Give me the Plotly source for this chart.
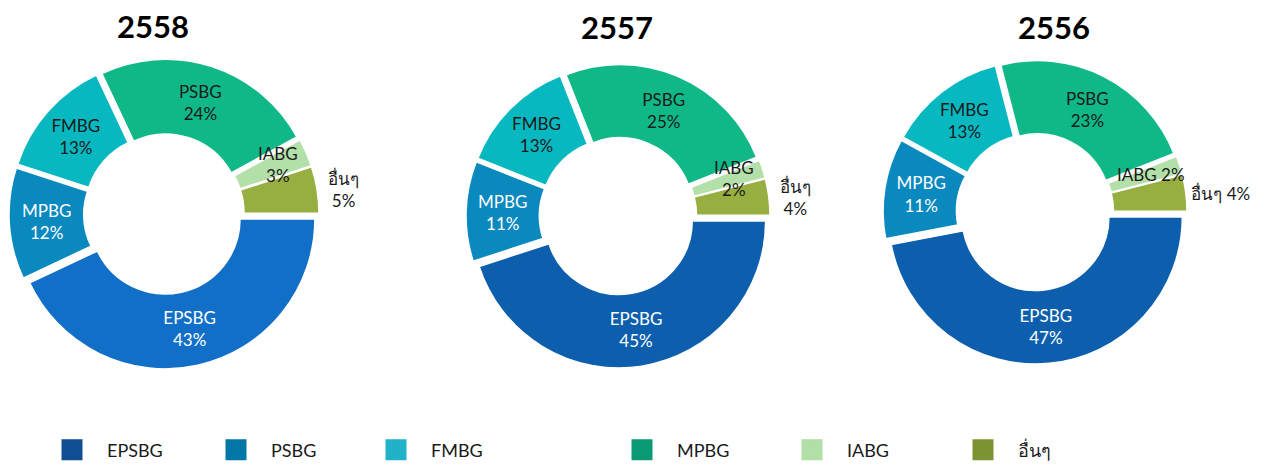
import math
import plotly.graph_objects as go

W, H = 1271, 466
OFF = 8  # page body margin in the browser

# ---------------- data ----------------
years = ["2558", "2557", "2556"]
slice_labels = ["EPSBG", "MPBG", "FMBG", "PSBG", "IABG", "อื่นๆ"]
values_2558 = [43, 12, 13, 24, 3, 5]
values_2557 = [45, 11, 13, 25, 2, 4]
values_2556 = [47, 11, 13, 23, 2, 4]
all_values = [values_2558, values_2557, values_2556]

legend_labels = ["EPSBG", "PSBG", "FMBG", "MPBG", "IABG", "อื่นๆ"]
legend_colors = ["#0f4e93", "#0077a6", "#21b1c9", "#0b9a74", "#b1dfa6", "#7b9431"]

# ---------------- style ----------------
FONT = "Lato, 'Noto Sans', 'DejaVu Sans', sans-serif"
slice_colors = [
    ["#126fc7", "#0a89bf", "#08b8c0", "#10b888", "#b2e0a8", "#97ae40"],
    ["#0d5fae", "#0a89bf", "#08b8c0", "#10b888", "#b2e0a8", "#97ae40"],
    ["#0d5fae", "#0a89bf", "#08b8c0", "#10b888", "#b2e0a8", "#97ae40"],
]
# donut centres (px in the page) and half box size
centres = [(164, 214, 155), (618, 216, 152), (1035, 212, 152)]
title_pos = [(153, 26), (617, 27), (1054, 27)]
other_templates = ["%{label}<br>%{value}%", "%{label}<br>%{value}%", "%{label} %{value}%"]
iabg_templates = ["IABG<br>{}%", "IABG<br>{}%", "IABG {}%"]
PULL = 0.035
ROT = 90


def px(x):
    return (x - OFF) / W


def py(y):
    return (H - (y - OFF)) / H


fig = go.Figure()
annotations = []
for i, vals in enumerate(all_values):
    cx, cy, S = centres[i]
    dom_x = [px(cx - S), px(cx + S)]
    dom_y = [py(cy + S), py(cy - S)]
    tmpl = ["%{label}<br>%{value}%"] * 4 + [""] + [other_templates[i]]
    fig.add_trace(go.Pie(
        labels=slice_labels, values=vals, sort=False, direction="clockwise",
        rotation=ROT, hole=0.5, pull=PULL,
        marker=dict(colors=slice_colors[i], line=dict(color="white", width=1.5)),
        texttemplate=tmpl,
        textposition=["inside", "inside", "inside", "inside", "none", "outside"],
        insidetextorientation="horizontal",
        textfont=dict(family=FONT, size=17,
                      color=["white", "white", "#1a1a1a", "#1a1a1a", "#1a1a1a", "#1a1a1a"]),
        outsidetextfont=dict(family=FONT, size=17, color="#1a1a1a"),
        domain=dict(x=dom_x, y=dom_y), showlegend=False, hoverinfo="label+percent",
    ))
    # IABG label placed at its slice mid-angle (computed from data)
    total = sum(vals)
    before = sum(vals[:4])
    ang = math.radians(ROT + 360 * (before + vals[4] / 2) / total)
    R = S / (1 + PULL)
    rl = 0.83 * R
    lx = cx + rl * math.sin(ang)
    ly = cy - rl * math.cos(ang)
    annotations.append(dict(x=px(lx), y=py(ly), xref="paper", yref="paper",
                            xanchor="center", yanchor="middle",
                            text=iabg_templates[i].format(vals[4]), showarrow=False,
                            font=dict(family=FONT, size=17, color="#1a1a1a")))
    tx, ty = title_pos[i]
    annotations.append(dict(x=px(tx), y=py(ty), xref="paper", yref="paper",
                            xanchor="center", yanchor="middle",
                            text="<b>" + years[i] + "</b>", showarrow=False,
                            font=dict(family=FONT, size=31, color="black")))

# legend: one entry per legend box so that spacing follows the reference
legend_square_centre = [73, 237, 397, 643, 813, 984]
layout_legends = {}
for j, (name, col) in enumerate(zip(legend_labels, legend_colors)):
    key = "legend" if j == 0 else "legend%d" % (j + 1)
    fig.add_trace(go.Scatter(
        x=[None], y=[None], mode="markers", name=name,
        marker=dict(symbol="square", size=16, color=col, line=dict(color=col, width=5)),
        legend=key, showlegend=True, hoverinfo="skip",
    ))
    layout_legends[key] = dict(
        x=px(legend_square_centre[j] - 36), xanchor="left",
        y=py(450), yanchor="middle",
        font=dict(family=FONT, size=18, color="#1a1a1a"),
        bgcolor="rgba(0,0,0,0)", itemsizing="trace", itemwidth=60,
    )

fig.update_layout(
    width=W, height=H, margin=dict(l=0, r=0, t=0, b=0, autoexpand=False),
    paper_bgcolor="white", plot_bgcolor="white",
    xaxis=dict(visible=False), yaxis=dict(visible=False),
    annotations=annotations,
    font=dict(family=FONT),
    **layout_legends,
)

fig.write_html("out.html")
